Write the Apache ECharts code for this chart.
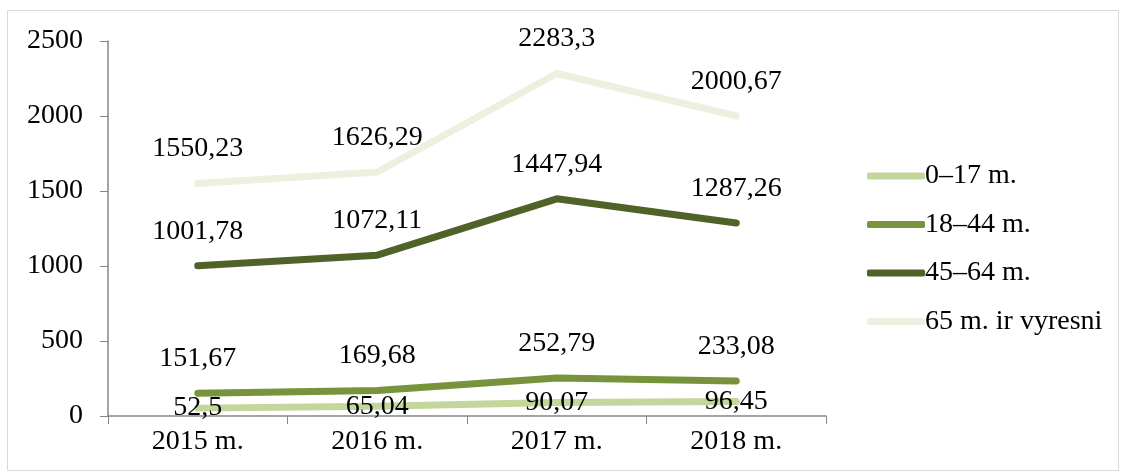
<!DOCTYPE html>
<html><head><meta charset="utf-8">
<script src="https://cdn.jsdelivr.net/npm/echarts@6/dist/echarts.min.js"></script>
<style>html,body{margin:0;padding:0;background:#fff}#c{width:1125px;height:474px}</style>
</head><body><div id="c"></div>
<script>
const categories = ['2015 m.', '2016 m.', '2017 m.', '2018 m.'];
const seriesNames = ['0–17 m.', '18–44 m.', '45–64 m.', '65 m. ir vyresni'];
const s0_17 = [52.5, 65.04, 90.07, 96.45];
const s18_44 = [151.67, 169.68, 252.79, 233.08];
const s45_64 = [1001.78, 1072.11, 1447.94, 1287.26];
const s65 = [1550.23, 1626.29, 2283.3, 2000.67];
const colors = ['#c3d69b', '#77933c', '#4f6228', '#ebf1de'];

const font = '"Liberation Serif", "Times New Roman", serif';
const FS = 28;
const fmt = p => String(p.value).replace('.', ',');
function mk(name, data, color, pos, dist) {
  return {
    name, type: 'line', data, showSymbol: true, symbol: 'circle', symbolSize: 1,
    lineStyle: { color, width: 7, cap: 'round', join: 'round' },
    itemStyle: { color: 'rgba(0,0,0,0)', borderWidth: 0 },
    label: { show: true, position: pos, distance: dist, formatter: fmt,
      fontFamily: font, fontSize: FS, color: '#000' },
    emphasis: { disabled: true },
    z: 2
  };
}
const chart = echarts.init(document.getElementById('c'));
chart.setOption({
  animation: false,
  graphic: [{ type: 'rect', shape: { x: 7.5, y: 10.5, width: 1111, height: 460 },
    style: { fill: 'none', stroke: '#d9d9d9', lineWidth: 1 } }],
  grid: { left: 108, right: 299, top: 41, bottom: 58 },
  xAxis: {
    type: 'category', data: categories, boundaryGap: true,
    axisLine: { lineStyle: { color: '#868686', width: 1.5 } },
    axisTick: { show: true, length: 8, lineStyle: { color: '#868686' } },
    axisLabel: { fontFamily: font, fontSize: FS, color: '#000', margin: 12 }
  },
  yAxis: {
    type: 'value', min: 0, max: 2500, interval: 500,
    axisLine: { show: true, lineStyle: { color: '#868686', width: 1.5 } },
    axisTick: { show: true, length: 8, lineStyle: { color: '#868686' } },
    splitLine: { show: false },
    axisLabel: { fontFamily: font, fontSize: FS, color: '#000', margin: 25, formatter: v => String(v) }
  },
  legend: {
    orient: 'vertical', left: 862, top: 157, itemGap: 20.5,
    itemWidth: 58, itemHeight: 7,
    icon: 'roundRect',
    textStyle: { fontFamily: font, fontSize: FS, color: '#000', padding: [0,0,0,-5] },
    data: seriesNames.map((n, i) => ({ name: n, icon: 'roundRect', itemStyle: { color: colors[i], borderWidth: 0 } }))
  },
  series: [
    mk(seriesNames[0], s0_17, colors[0], 'inside', 0),
    mk(seriesNames[1], s18_44, colors[1], 'top', 20),
    mk(seriesNames[2], s45_64, colors[2], 'top', 20),
    mk(seriesNames[3], s65, colors[3], 'top', 20)
  ]
});
</script></body></html>
